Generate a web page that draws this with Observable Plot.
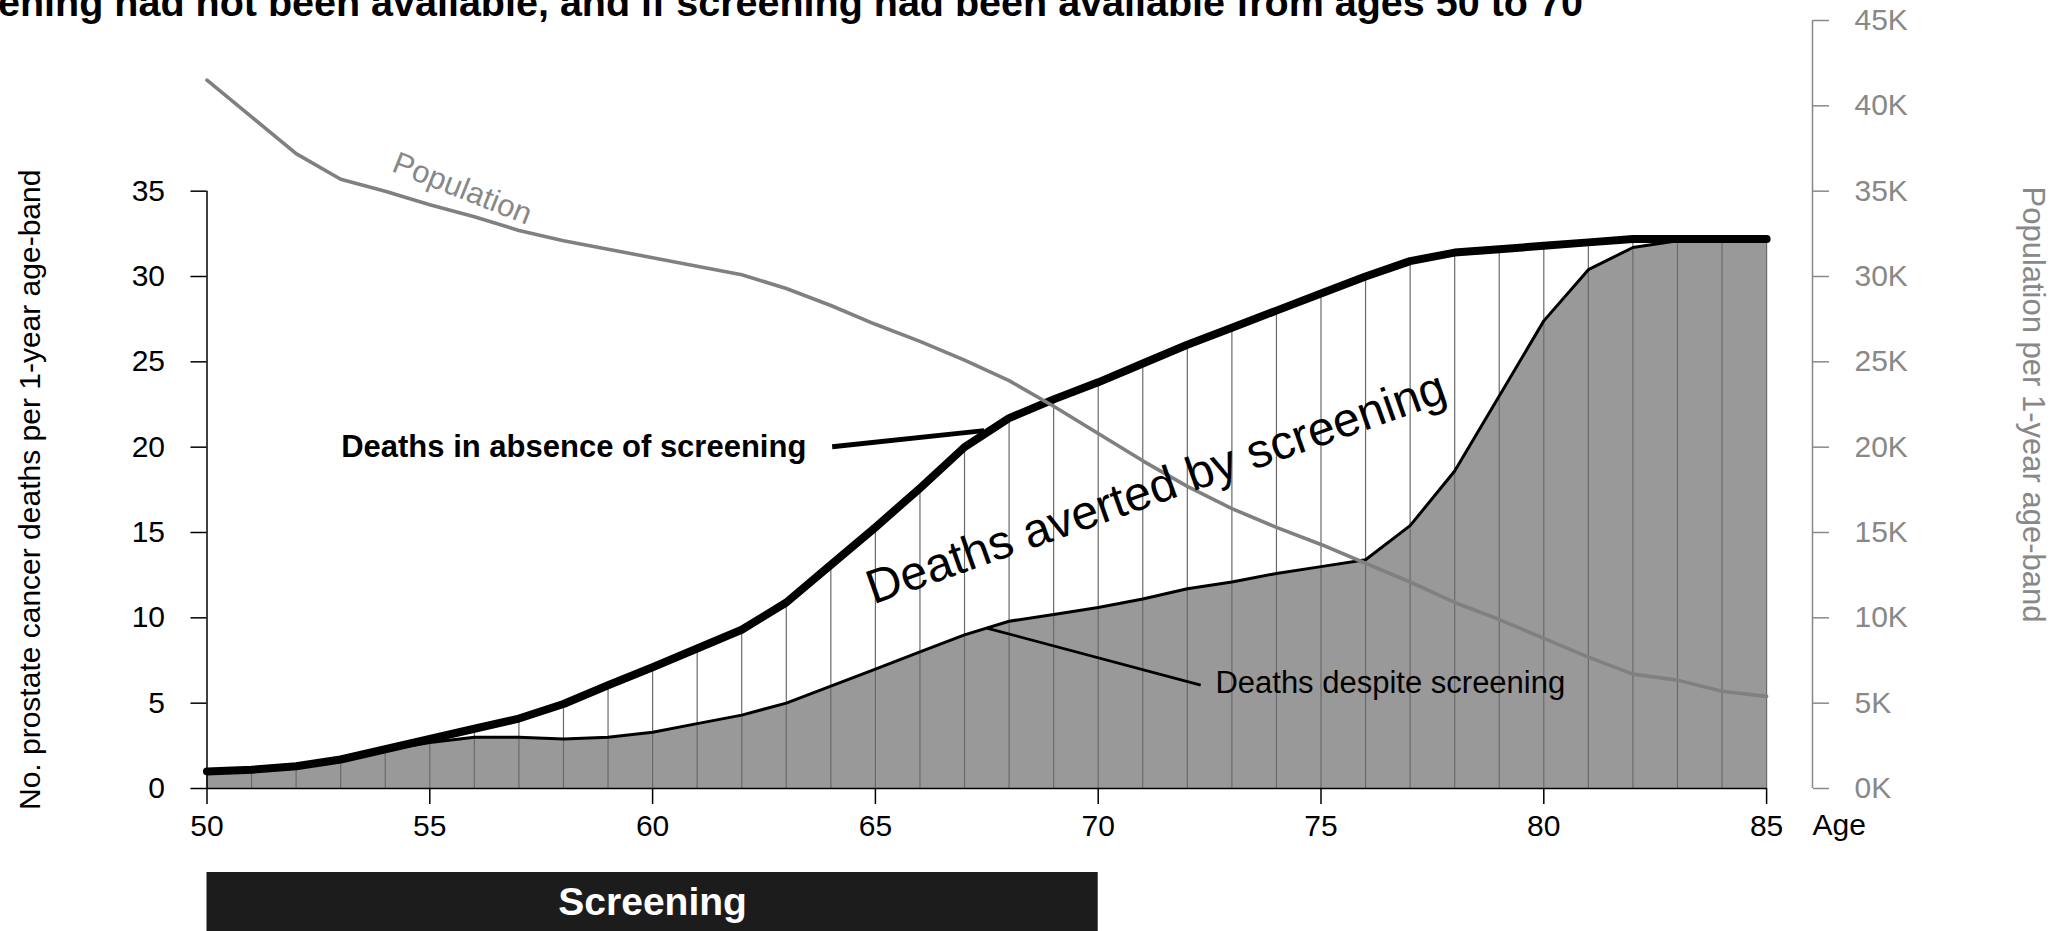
<!DOCTYPE html>
<html>
<head>
<meta charset="utf-8">
<script src="https://cdn.jsdelivr.net/npm/d3@7"></script>
<script src="https://cdn.jsdelivr.net/npm/@observablehq/plot@0.6"></script>
<style>
  body { margin: 0; background: white; overflow: hidden; }
  #page { position: relative; width: 2062px; height: 931px; overflow: hidden; font-family: "Liberation Sans", Arial, sans-serif; }
  #title { position: absolute; left: -2px; top: -18px; z-index: 2; font-weight: bold; font-size: 39.5px; line-height: 40px; white-space: nowrap; }
  #chart svg, #bar svg { display: block; }
</style>
</head>
<body>
<div id="page">
  <div id="chart"></div>
  <div id="bar"></div>
  <div id="title">ening had not been available, and if screening had been available from ages 50 to 70</div>
</div>
<script>
// ages, one-year bands
const ages = [50, 51, 52, 53, 54, 55, 56, 57, 58, 59, 60, 61, 62, 63, 64, 65, 66, 67,
  68, 69, 70, 71, 72, 73, 74, 75, 76, 77, 78, 79, 80, 81, 82, 83, 84, 85]
// prostate cancer deaths per 1-year band, no screening
const deathsNoScreening = [1.0, 1.1, 1.3, 1.7, 2.3, 2.9, 3.5, 4.1, 4.95, 6.05, 7.1, 8.2, 9.3,
  10.9, 13.1, 15.3, 17.6, 20.0, 21.7, 22.8, 23.8, 24.9, 26.0, 27.0, 28.0, 29.0, 30.0, 30.9,
  31.4, 31.6, 31.8, 32.0, 32.2, 32.2, 32.2, 32.2]
// deaths with screening from 50 to 70
const deathsWithScreening = [1.0, 1.1, 1.2, 1.65, 2.25, 2.7, 3.0, 3.0, 2.9, 3.0, 3.3, 3.8, 4.3,
  5.0, 6.0, 7.0, 8.0, 9.0, 9.8, 10.2, 10.6, 11.1, 11.7, 12.1, 12.6, 13.0, 13.4, 15.4, 18.6,
  23.0, 27.4, 30.4, 31.7, 32.1, 32.2, 32.2]
// population per band, thousands
const populationK = [41.5, 39.35, 37.2, 35.7, 35.0, 34.2, 33.5, 32.7, 32.1, 31.6, 31.1, 30.6,
  30.1, 29.3, 28.3, 27.2, 26.2, 25.1, 23.9, 22.4, 20.8, 19.2, 17.7, 16.4, 15.3, 14.3, 13.2,
  12.1, 10.9, 9.9, 8.8, 7.7, 6.7, 6.35, 5.7, 5.4]

const ageTicks = [50, 55, 60, 65, 70, 75, 80, 85]
const deathTicks = [0, 5, 10, 15, 20, 25, 30, 35]
const popTicks = [0, 5, 10, 15, 20, 25, 30, 35, 40, 45]
const screeningAges = [50, 70]

const rows = ages.map((age, i) => ({
  age: age,
  absence: deathsNoScreening[i],
  despite: deathsWithScreening[i],
  pop: populationK[i]
}))

const font = "Liberation Sans, Arial, sans-serif"
// the population axis sits a bit to the right of age 85
const xMax = 86.03
const lastAge = ages[ages.length - 1]

const chart = Plot.plot({
  width: 2062,
  height: 872,
  marginLeft: 206.5,
  marginRight: 250,
  marginTop: 20,
  marginBottom: 84,
  style: {fontFamily: font, fontSize: "30px", color: "black", background: "white", overflow: "visible"},
  x: {domain: [ages[0], xMax]},
  y: {domain: [0, d3.max(popTicks)]},
  marks: [
    Plot.areaY(rows, {x: 'age', y: 'despite', fill: '#999999'}),
    Plot.ruleX(rows, {x: 'age', y1: 0, y2: 'absence', stroke: '#6a6a6a', strokeWidth: 1.2}),
    Plot.line(rows, {x: 'age', y: 'despite', stroke: 'black', strokeWidth: 3, strokeLinejoin: 'round'}),
    Plot.line(rows, {x: 'age', y: 'absence', stroke: 'black', strokeWidth: 8, strokeLinejoin: 'round', strokeLinecap: 'round'}),
    Plot.line(rows, {x: 'age', y: 'pop', stroke: '#808080', strokeWidth: 3.6, strokeLinejoin: 'round'}),

    // axes
    Plot.ruleY([0], {x1: ageTicks[0], x2: lastAge, stroke: 'black', strokeWidth: 1.5}),
    Plot.axisX({ticks: ageTicks, tickSize: 16, tickPadding: 10, label: null, strokeWidth: 1.5}),
    Plot.text(['Age'], {text: d => d, frameAnchor: 'bottom-right', textAnchor: 'start', lineAnchor: 'middle', dy: 37}),
    Plot.ruleX([ages[0]], {y1: 0, y2: d3.max(deathTicks), stroke: 'black', strokeWidth: 1.5}),
    Plot.axisY({ticks: deathTicks, tickSize: 16, tickPadding: 26, label: null, strokeWidth: 1.5}),
    Plot.text(['No. prostate cancer deaths per 1-year age-band'], {
      text: d => d, x: ages[0], y: d3.mean(d3.extent(deathTicks)), dx: -177, rotate: -90
    }),
    Plot.ruleX([xMax], {y1: 0, y2: d3.max(popTicks), stroke: '#888', strokeWidth: 1.5}),
    Plot.axisY({
      anchor: 'right', ticks: popTicks, tickFormat: d => d + 'K',
      tickSize: 16, tickPadding: 26, label: null, color: '#888', strokeWidth: 1.5
    }),
    Plot.text(['Population per 1-year age-band'], {
      text: d => d, frameAnchor: 'right', textAnchor: 'middle', lineAnchor: 'middle',
      dx: 220, rotate: 90, fill: '#888', fontSize: 31
    }),

    // annotations
    Plot.text(['Population'], {text: d => d, x: 55.73, y: 35.15, rotate: 21.7, fill: '#888', fontSize: 31}),
    Plot.text(['Deaths averted by screening'], {text: d => d, x: 71.3, y: 17.6, rotate: -19.5, fontSize: 48}),
    Plot.link([{x1: 64.03, y1: 20.03, x2: 67.44, y2: 20.97}], {x1: 'x1', y1: 'y1', x2: 'x2', y2: 'y2', stroke: 'black', strokeWidth: 5}),
    Plot.text(['Deaths in absence of screening'], {text: d => d, x: 63.45, y: 20.0, textAnchor: 'end', fontWeight: 'bold', fontSize: 31}),
    Plot.link([{x1: 72.3, y1: 6.06, x2: 67.5, y2: 9.4}], {x1: 'x1', y1: 'y1', x2: 'x2', y2: 'y2', stroke: 'black', strokeWidth: 2.8}),
    Plot.text(['Deaths despite screening'], {text: d => d, x: 72.63, y: 6.17, textAnchor: 'start', fontSize: 31})
  ]
})
d3.select('#chart').append(() => chart)

// black band showing the screening ages, same x scale as the chart
const bar = Plot.plot({
  width: 2062,
  height: 70,
  marginLeft: 206.5,
  marginRight: 250,
  marginTop: 0,
  marginBottom: 0,
  style: {fontFamily: font, background: "white"},
  x: {domain: [ages[0], xMax], axis: null},
  marks: [
    Plot.rect([screeningAges], {x1: d => d[0], x2: d => d[1], fill: '#1c1c1c'}),
    Plot.text([screeningAges], {
      x: d => (d[0] + d[1]) / 2, text: () => 'Screening', frameAnchor: 'top', lineAnchor: 'middle', dy: 30,
      fill: 'white', fontWeight: 'bold', fontSize: 39
    })
  ]
})
d3.select('#bar').append(() => bar)
</script>
</body>
</html>
